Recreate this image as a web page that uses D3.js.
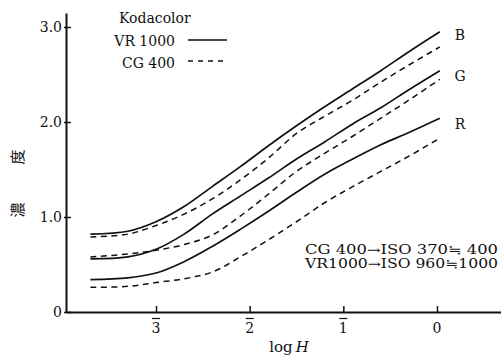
<!DOCTYPE html>
<html>
<head>
<meta charset="utf-8">
<script src="https://cdn.jsdelivr.net/npm/d3@7"></script>
<style>
  body { margin: 0; background: #fff; }
  svg { display: block; }
  text { font-family: "DejaVu Serif", "Liberation Serif", serif; fill: #111; }
</style>
</head>
<body>
<div id="chart"></div>
<script>
// log H sample points shared by all curves
var logH = [-3.7, -3.3, -3.0, -2.7, -2.4, -2.1, -1.8, -1.5, -1.2, -0.9, -0.6, -0.3, 0.03];

// density, Kodacolor VR 1000 (solid)
var vrB = [0.82, 0.85, 0.95, 1.11, 1.32, 1.53, 1.75, 1.96, 2.16, 2.35, 2.54, 2.74, 2.95];
var vrG = [0.56, 0.58, 0.66, 0.82, 1.03, 1.22, 1.41, 1.61, 1.79, 1.98, 2.15, 2.34, 2.54];
var vrR = [0.34, 0.36, 0.41, 0.53, 0.69, 0.87, 1.06, 1.26, 1.45, 1.61, 1.76, 1.89, 2.04];
// density, CG 400 (dashed)
var cgB = [0.79, 0.82, 0.91, 1.03, 1.19, 1.39, 1.62, 1.88, 2.06, 2.23, 2.42, 2.60, 2.79];
var cgG = [0.58, 0.61, 0.65, 0.71, 0.81, 1.01, 1.24, 1.48, 1.67, 1.85, 2.04, 2.23, 2.45];
var cgR = [0.26, 0.27, 0.31, 0.35, 0.42, 0.58, 0.76, 0.95, 1.15, 1.32, 1.48, 1.64, 1.83];

var xTicks = [-3, -2, -1, 0];
var xTickLabels = ["3", "2", "1", "0"];
var yTicks = [0, 1, 2, 3];
var yTickLabels = ["0", "1.0", "2.0", "3.0"];
var curveLabels = ["B", "G", "R"];
var noteLines = ["CG 400\u2192ISO 370\u2252 400", "VR1000\u2192ISO 960\u22521000"];

var W = 501, H = 359;
var svg = d3.select("#chart").append("svg")
  .attr("width", W)
  .attr("height", H);

var x = d3.scaleLinear().domain([-3, 0]).range([156, 437]);
var y = d3.scaleLinear().domain([0, 3]).range([312, 27]);

// axes reach a bit further than the data
var xAx = x.copy().domain([x.invert(66), x.invert(501)]).range([66, 501]);
var yAx = y.copy().domain([0, y.invert(13)]).range([312, 13]);

// x axis
var gx = svg.append("g").attr("transform", "translate(0," + y(0) + ")")
  .call(d3.axisBottom(xAx).tickValues(xTicks).tickSize(0).tickFormat(""));
gx.select(".domain").attr("stroke", "#111").attr("stroke-width", 2);
gx.selectAll(".tick line").attr("y2", -6).attr("stroke", "#111").attr("stroke-width", 1.5);

// x tick labels, bar over the negative characteristic
xTicks.forEach(function (t, i) {
  svg.append("text")
    .attr("x", x(t)).attr("y", 333)
    .attr("text-anchor", "middle")
    .attr("font-size", 14)
    .text(xTickLabels[i]);
  if (t < 0) {
    svg.append("line")
      .attr("x1", x(t) - 4).attr("x2", x(t) + 4)
      .attr("y1", 318.5).attr("y2", 318.5)
      .attr("stroke", "#111").attr("stroke-width", 1.2);
  }
});

var xt = svg.append("text").attr("x", 289).attr("y", 352)
  .attr("text-anchor", "middle").attr("font-size", 15);
xt.append("tspan").text("log\u2009");
xt.append("tspan").attr("font-style", "italic").text("H");

// y axis
var gy = svg.append("g").attr("transform", "translate(66,0)")
  .call(d3.axisLeft(yAx).tickValues(yTicks).tickSize(0).tickFormat(""));
gy.select(".domain").attr("stroke", "#111").attr("stroke-width", 2);
gy.selectAll(".tick line").attr("x1", -2).attr("x2", 5).attr("stroke", "#111").attr("stroke-width", 1.5);

yTicks.forEach(function (t, i) {
  svg.append("text")
    .attr("x", 62).attr("y", y(t) + 5)
    .attr("text-anchor", "end")
    .attr("font-size", 14)
    .text(yTickLabels[i]);
});

// y title, rotated characters
[["\u5ea6", 157], ["\u6fc3", 210]].forEach(function (c) {
  svg.append("text")
    .attr("transform", "translate(18," + c[1] + ") rotate(-90)")
    .attr("text-anchor", "middle")
    .attr("dy", "0.35em")
    .attr("font-size", 15)
    .style("font-family", "'Noto Sans CJK JP', sans-serif")
    .text(c[0]);
});

// curves
var line = d3.line()
  .x(function (d) { return x(d[0]); })
  .y(function (d) { return y(d[1]); })
  .curve(d3.curveCatmullRom.alpha(0.5));

function pts(vals) { return logH.map(function (h, i) { return [h, vals[i]]; }); }

[vrB, vrG, vrR].forEach(function (v) {
  svg.append("path").datum(pts(v)).attr("d", line)
    .attr("fill", "none").attr("stroke", "#111").attr("stroke-width", 1.7);
});
[cgB, cgG, cgR].forEach(function (v) {
  svg.append("path").datum(pts(v)).attr("d", line)
    .attr("fill", "none").attr("stroke", "#111").attr("stroke-width", 1.5)
    .attr("stroke-dasharray", "6,4.5");
});

// B G R labels, at the level of the solid curve ends
[vrB, vrG, vrR].forEach(function (v, i) {
  svg.append("text")
    .attr("x", 460).attr("y", y(v[v.length - 1]) + [8, 10, 11][i])
    .attr("text-anchor", "middle")
    .attr("font-size", 14)
    .text(curveLabels[i]);
});

// legend
svg.append("text").attr("x", 119).attr("y", 23).attr("font-size", 14).text("Kodacolor");
svg.append("text").attr("x", 175).attr("y", 46).attr("text-anchor", "end").attr("font-size", 14).text("VR 1000");
svg.append("text").attr("x", 175).attr("y", 68).attr("text-anchor", "end").attr("font-size", 14).text("CG 400");
svg.append("line").attr("x1", 188).attr("x2", 227).attr("y1", 40).attr("y2", 40)
  .attr("stroke", "#111").attr("stroke-width", 1.7);
svg.append("line").attr("x1", 188).attr("x2", 226).attr("y1", 61).attr("y2", 61)
  .attr("stroke", "#111").attr("stroke-width", 1.5).attr("stroke-dasharray", "5,5");

// ISO note
noteLines.forEach(function (s, i) {
  svg.append("text")
    .attr("x", 305).attr("y", 254 + i * 14)
    .attr("font-size", 12)
    .attr("textLength", 193)
    .attr("lengthAdjust", "spacingAndGlyphs")
    .text(s);
});
</script>
</body>
</html>
